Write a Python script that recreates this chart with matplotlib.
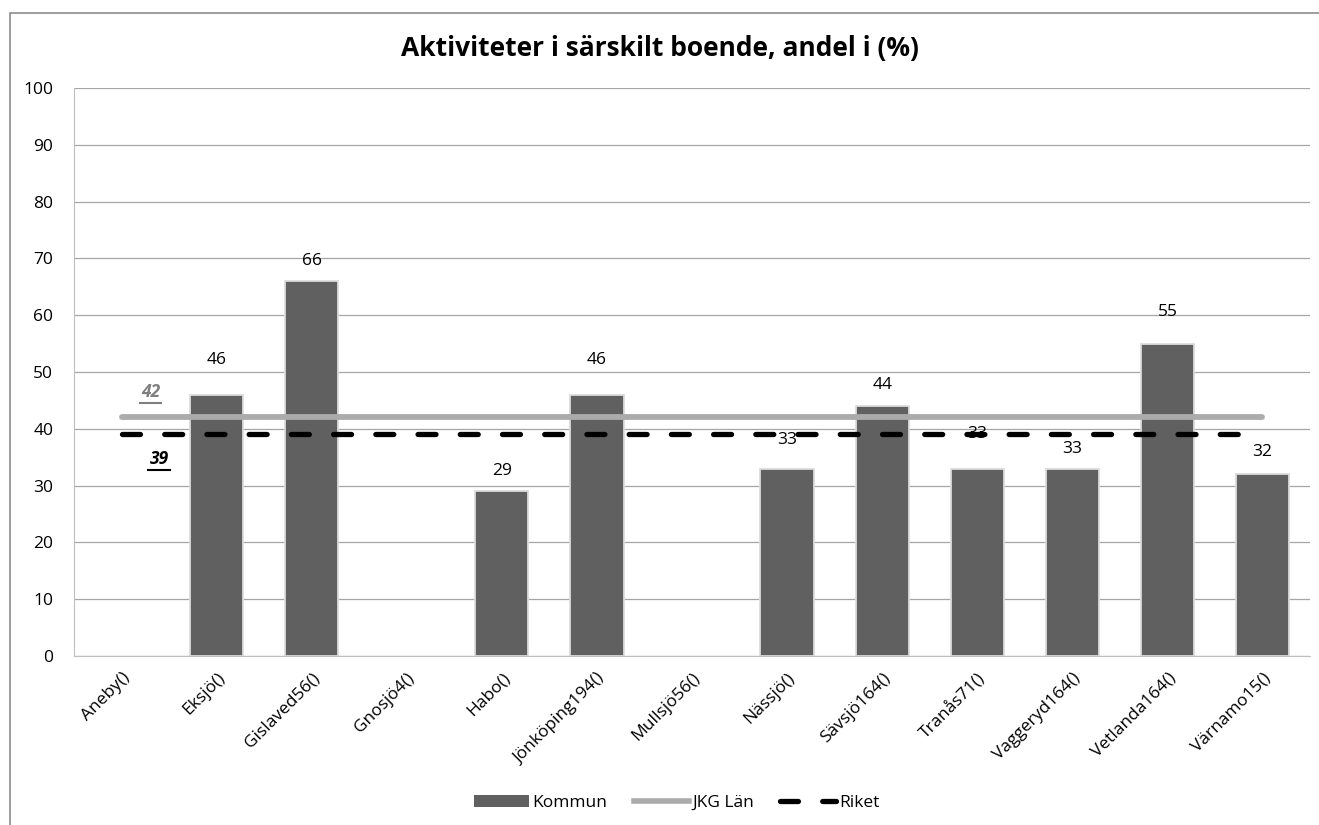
import numpy as np
import matplotlib
matplotlib.use('Agg')
import matplotlib.pyplot as plt
from matplotlib.lines import Line2D
from matplotlib.patches import Patch, Rectangle

plt.rcParams['font.family'] = ['Open Sans', 'DejaVu Sans']

# Data
kommuner = ['Aneby()', 'Eksjö()', 'Gislaved56()', 'Gnosjö4()', 'Habo()', 'Jönköping194()',
            'Mullsjö56()', 'Nässjö()', 'Sävsjö164()', 'Tranås71()', 'Vaggeryd164()',
            'Vetlanda164()', 'Värnamo15()']
kommun_values = [np.nan, 46, 66, np.nan, 29, 46, np.nan, 33, 44, 33, 33, 55, 32]
lan_value = 42
riket_value = 39
y_ticks = list(range(0, 101, 10))

# label placement above each bar (data units), as Excel placed them
label_offsets = [0, 6.2, 3.5, 0, 3.5, 6.2, 0, 5.0, 3.7, 6.0, 3.5, 5.5, 4.0]

bar_color = '#606060'
lan_color = '#ababab'

fig = plt.figure(figsize=(13.19, 8.25), dpi=100)
ax = fig.add_axes([74 / 1319, 1 - 656 / 825, 1236 / 1319, 568 / 825])

x = np.arange(len(kommuner))
vals = np.array(kommun_values, dtype=float)
has = ~np.isnan(vals)
ax.bar(x[has], vals[has], width=0.56, color=bar_color, edgecolor='#dcdcdc',
       linewidth=1.3, zorder=2)

for xi, v, off in zip(x, vals, label_offsets):
    if not np.isnan(v):
        ax.text(xi, v + off, f'{int(v)}', ha='center', va='center', fontsize=12.5,
                color='black', zorder=2.5)

ax.plot([x[0], x[-1]], [lan_value, lan_value], color=lan_color, lw=4.2,
        solid_capstyle='round', zorder=3)
ax.plot([x[0], x[-1] - 0.2], [riket_value, riket_value], color='black', lw=3.8,
        dashes=(3.4, 4.6), dash_capstyle='round', zorder=3)

ax.text(x[0] + 0.31, lan_value + 4.4, f'{lan_value}', ha='center', va='center', fontsize=12.5,
        fontweight='bold', fontstyle='italic', color='#7f7f7f')
ax.text(x[0] + 0.4, riket_value - 4.4, f'{riket_value}', ha='center', va='center', fontsize=12.5,
        fontweight='bold', fontstyle='italic', color='black')
# underlines
ax.plot([x[0] + 0.19, x[0] + 0.42], [lan_value + 2.6, lan_value + 2.6], color='#7f7f7f', lw=1.5)
ax.plot([x[0] + 0.28, x[0] + 0.51], [riket_value - 6.3, riket_value - 6.3], color='black', lw=1.5)

ax.set_xlim(-0.5, len(kommuner) - 0.5)
ax.set_ylim(0, 100)
ax.set_yticks(y_ticks)
ax.set_yticklabels([str(t) for t in y_ticks], fontsize=12.5)
ax.set_xticks(x)
ax.set_xticklabels(kommuner, rotation=45, ha='right', rotation_mode='anchor', fontsize=12.5)
ax.tick_params(axis='x', length=0, pad=10)
ax.tick_params(axis='y', length=0, pad=15)
ax.yaxis.grid(True, color='#a6a6a6', lw=0.9, zorder=0)
ax.set_axisbelow(True)
for s in ['top', 'right']:
    ax.spines[s].set_visible(False)
ax.spines['left'].set_color('#bfbfbf')
ax.spines['bottom'].set_color('#bfbfbf')

fig.suptitle('Aktiviteter i särskilt boende, andel i (%)', y=0.957, fontsize=19, fontweight='bold')

handles = [Patch(facecolor=bar_color, edgecolor='none'),
           Line2D([0], [0], color=lan_color, lw=4),
           Line2D([0], [0], color='black', lw=3.8, dashes=(3.4, 4.6), dash_capstyle='round')]
fig.legend(handles, ['Kommun', 'JKG Län', 'Riket'], loc='center', bbox_to_anchor=(0.513, 0.027),
           ncol=3, frameon=False, fontsize=12.5, handlelength=3.2, columnspacing=1.5,
           handletextpad=0.2)

# chart frame (top-left edges visible)
fig.patches.append(Rectangle((10 / 1319, -0.05), 1.2, 1 - 13 / 825 + 0.05, transform=fig.transFigure,
                             fill=False, edgecolor='#8c8c8c', lw=1.2))

fig.savefig('out.png', dpi=100)
